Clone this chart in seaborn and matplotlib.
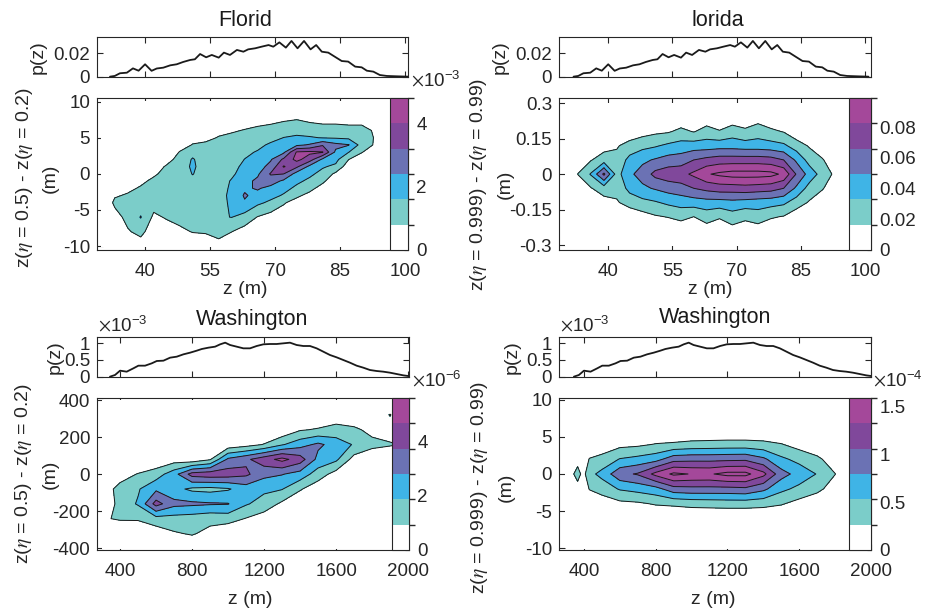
import numpy as np
import matplotlib
matplotlib.use("Agg")
import matplotlib.pyplot as plt
import seaborn as sns
from matplotlib.colors import ListedColormap, BoundaryNorm
from matplotlib.cm import ScalarMappable

# ---------------- marginal densities p(z) ----------------
fl_z = [31.9, 33, 34.2, 35.8, 37.2, 38.5, 40, 41.5, 42.7, 44.2,
        45.8, 47.3, 48.8, 50.4, 51.5, 52.7, 54.1, 55.4, 57, 58.2,
        59.6, 61.2, 62.7, 63.8, 65.4, 66.9, 68.5, 69.6, 71, 72.5,
        73.8, 75.2, 76.7, 78.2, 79.5, 80.8, 82.3, 83.8, 85.4, 86.9,
        88.5, 90, 91.2, 92.7, 94.2, 95.8, 98.1, 100.8]
fl_p = [0, 0.0006, 0.0029, 0.0034, 0.0071, 0.0051, 0.0106, 0.005, 0.007, 0.0077,
        0.0097, 0.0106, 0.0126, 0.0143, 0.0149, 0.0194, 0.0166, 0.0186, 0.0163, 0.0206,
        0.0186, 0.0229, 0.0214, 0.0234, 0.0243, 0.0257, 0.0271, 0.0257, 0.0294, 0.0249,
        0.0306, 0.0243, 0.0306, 0.0234, 0.0271, 0.0214, 0.0206, 0.0171, 0.0134, 0.0129,
        0.0086, 0.008, 0.0051, 0.0043, 0.0014, 0.0006, 0.0003, 0]

wa_z = [344, 372, 400, 437, 474, 502, 539, 576, 604, 641,
        678, 715, 752, 789, 826, 854, 891, 928, 956, 984,
        1011, 1048, 1085, 1122, 1159, 1196, 1233, 1270, 1307, 1344,
        1381, 1418, 1455, 1492, 1529, 1566, 1603, 1640, 1677, 1714,
        1751, 1788, 1825, 1862, 1899, 1936, 1973, 2000]
wa_p = [0, 0.05, 0.18, 0.15, 0.25, 0.33, 0.33, 0.40, 0.47, 0.48,   # x1e-3
        0.57, 0.60, 0.67, 0.72, 0.78, 0.83, 0.87, 0.90, 0.97, 1.02,
        0.95, 0.90, 0.85, 0.85, 0.92, 0.97, 0.98, 0.98, 1.0, 1.02,
        0.95, 0.92, 0.92, 0.85, 0.75, 0.65, 0.58, 0.50, 0.42, 0.33,
        0.27, 0.20, 0.17, 0.15, 0.12, 0.08, 0.04, 0.02]

# ---------------- joint densities (in multiples of each panel's contour interval) ----------------
fl_grid_z = [30, 33, 36, 39, 42, 45, 48, 51, 54, 57, 60, 63, 66, 69, 72, 75, 78, 81, 84, 87, 90, 93, 96, 99]

fl_dz_a = [10, 8, 6, 5, 4, 3, 2, 1, 0, -1, -2, -3, -4, -6, -8, -10]
fl_step_a = 0.8   # x1e-3
fl_joint_a = [
    [0, 0, 0, 0, 0, 0, 0, 0, 0, 0, 0, 0, 0, 0, 0, 0, 0, 0, 0, 0, 0, 0, 0, 0],
    [0, 0, 0, 0, 0, 0, 0, 0, 0, 0, 0.1, 0.4, 0.5, 0.6, 0.7, 0.8, 0.6, 0.5, 0.5, 0.5, 0.5, 0.3, 0, 0],
    [0, 0, 0, 0, 0, 0, 0, 0.2, 0.5, 0.8, 0.9, 1.05, 1.2, 1.3, 1.5, 1.6, 1.5, 1.4, 1.4, 1.3, 1.3, 0.9, 0, 0],
    [0, 0, 0, 0, 0, 0, 0.2, 0.7, 0.8, 1.05, 1.2, 1.3, 1.4, 1.6, 2.02, 2.2, 2.1, 1.95, 1.9, 1.8, 1.5, 0.95, 0, 0],
    [0, 0, 0, 0, 0, 0, 0.6, 1.05, 1.15, 1.3, 1.3, 1.5, 1.7, 2.2, 2.4, 2.8, 3.1, 3.9, 3.3, 3.05, 1.6, 0.9, 0, 0],
    [0, 0, 0, 0, 0, 0.35, 1.05, 1.6, 1.3, 1.35, 1.4, 1.75, 2.1, 2.6, 2.8, 5.1, 5.2, 5.05, 2.8, 2.02, 1.05, 0.5, 0, 0],
    [0, 0, 0, 0, 0.3, 0.7, 1.3, 2.1, 1.4, 1.4, 1.5, 2.02, 2.4, 2.9, 4.2, 5.3, 4.5, 2.8, 2.3, 1.02, 0.5, 0.2, 0, 0],
    [0, 0, 0, 0.2, 0.6, 1.1, 1.4, 2.2, 1.4, 1.4, 1.6, 2.3, 2.6, 3.3, 5.1, 4.2, 2.7, 2.1, 1.8, 0.4, 0, 0, 0, 0],
    [0, 0, 0.3, 0.5, 0.85, 1.3, 1.4, 2.05, 1.4, 1.4, 1.8, 2.5, 2.85, 4.1, 4.02, 2.6, 2.2, 1.7, 0.8, 0.1, 0, 0, 0, 0],
    [0, 0.2, 0.55, 0.8, 1.2, 1.4, 1.4, 1.7, 1.4, 1.45, 2.1, 2.7, 3.2, 3.5, 2.8, 2.2, 1.8, 1.2, 0.3, 0, 0, 0, 0, 0],
    [0, 0.5, 0.8, 1.1, 1.4, 1.4, 1.4, 1.4, 1.4, 1.5, 2.2, 2.85, 3.1, 2.7, 2.3, 1.8, 1.3, 0.6, 0, 0, 0, 0, 0, 0],
    [0, 0.9, 1.1, 1.3, 1.4, 1.4, 1.4, 1.4, 1.45, 1.55, 2.3, 3.1, 2.7, 2.3, 1.9, 1.2, 0.7, 0.2, 0, 0, 0, 0, 0, 0],
    [0, 1.2, 1.4, 1.5, 1.4, 1.4, 1.4, 1.4, 1.5, 1.6, 2.2, 2.9, 2.2, 1.8, 1.1, 0.6, 0.4, 0, 0, 0, 0, 0, 0, 0],
    [0, 0.6, 1.3, 2.05, 0.8, 1.1, 1.3, 1.3, 1.4, 1.9, 2.02, 1.6, 0.95, 0.6, 0.4, 0, 0, 0, 0, 0, 0, 0, 0, 0],
    [0, 0, 0.9, 1.3, 0.4, 0.5, 0.8, 1.05, 1.1, 1.2, 1.02, 0.6, 0.3, 0, 0, 0, 0, 0, 0, 0, 0, 0, 0, 0],
    [0, 0, 0, 0.5, 0, 0, 0.2, 0.3, 0.4, 0.8, 0.3, 0, 0, 0, 0, 0, 0, 0, 0, 0, 0, 0, 0, 0],
]

fl_dz_b = [0.3, 0.24, 0.18, 0.12, 0.06, 0, -0.06, -0.12, -0.18, -0.24, -0.3]
fl_step_b = 0.0165
fl_joint_b = [
    [0, 0, 0, 0, 0, 0, 0, 0, 0, 0, 0, 0, 0, 0, 0, 0, 0, 0, 0, 0, 0, 0, 0, 0],
    [0, 0, 0, 0, 0, 0, 0, 0, 0.2, 0.3, 0.3, 0.4, 0.5, 0.4, 0.5, 0.6, 0.3, 0.1, 0, 0, 0, 0, 0, 0],
    [0, 0, 0, 0, 0.2, 0.3, 0.6, 0.8, 0.9, 1.25, 0.95, 1.4, 1.05, 1.5, 1.15, 1.5, 1.2, 0.95, 0.3, 0.1, 0, 0, 0, 0],
    [0, 0, 0.2, 0.6, 0.9, 1.4, 1.7, 1.9, 2.2, 2.4, 2.5, 2.5, 2.6, 2.6, 2.5, 2.5, 2.4, 2.2, 1.5, 0.9, 0.3, 0, 0, 0],
    [0, 0.3, 0.95, 1.5, 1.3, 2.3, 2.8, 3.1, 3.4, 3.5, 4.0, 4.3, 4.5, 4.5, 4.5, 4.5, 4.4, 4.0, 2.8, 1.6, 1.1, 0.3, 0, 0],
    [0, 1.05, 2.1, 4.2, 1.6, 2.8, 3.4, 4.3, 4.6, 4.7, 5.2, 5.9, 6.2, 6.4, 6.4, 6.4, 6.3, 5.8, 3.9, 2.6, 1.6, 0.8, 0, 0],
    [0, 0.3, 0.95, 1.5, 1.3, 2.3, 2.8, 3.1, 3.4, 3.6, 4.0, 4.3, 4.5, 4.5, 4.6, 4.5, 4.4, 4.0, 2.8, 1.6, 1.1, 0.3, 0, 0],
    [0, 0, 0.2, 0.6, 0.9, 1.4, 1.7, 1.9, 2.2, 2.4, 2.5, 2.6, 2.6, 2.7, 2.6, 2.5, 2.4, 2.2, 1.5, 0.9, 0.3, 0, 0, 0],
    [0, 0, 0, 0, 0.2, 0.3, 0.6, 0.9, 1.05, 1.3, 1.0, 1.45, 1.1, 1.55, 1.2, 1.5, 1.1, 0.95, 0.4, 0.1, 0, 0, 0, 0],
    [0, 0, 0, 0, 0, 0, 0, 0, 0.2, 0.3, 0.4, 0.5, 0.4, 0.6, 0.5, 0.5, 0.4, 0.1, 0, 0, 0, 0, 0, 0],
    [0, 0, 0, 0, 0, 0, 0, 0, 0, 0, 0, 0, 0, 0, 0, 0, 0, 0, 0, 0, 0, 0, 0, 0],
]

wa_grid_z_a = [300, 400, 500, 600, 700, 800, 900, 1000, 1100, 1200, 1300, 1400, 1500, 1600, 1700, 1800, 1900, 2000]
wa_dz_a = [400, 320, 240, 160, 80, 0, -80, -160, -240, -320, -400]
wa_step_a = 0.93  # x1e-6
wa_joint_a = [
    [0, 0, 0, 0, 0, 0, 0, 0, 0, 0, 0, 0, 0, 0, 0, 0, 0, 0],
    [0, 0, 0, 0, 0, 0, 0, 0, 0, 0, 0, 0, 0.1, 0.5, 0.2, 0.3, 1.05, 0],
    [0, 0, 0, 0, 0, 0, 0, 0, 0, 0, 0.2, 0.9, 1.1, 1.3, 1.2, 0.7, 0.5, 0],
    [0, 0, 0, 0, 0, 0, 0, 0.3, 0.6, 1.05, 1.9, 2.6, 3.2, 2.6, 1.9, 1.3, 1.1, 0.9],
    [0, 0, 0.1, 0.2, 0.5, 0.3, 0.9, 3.2, 3.8, 4.6, 5.3, 4.5, 2.7, 2.2, 0.6, 0.2, 0.1, 0],
    [0, 0.6, 1.05, 1.5, 2.6, 4.4, 4.6, 4.5, 4.2, 3.3, 3.05, 2.6, 1.5, 0.6, 0, 0, 0, 0],
    [0.5, 1.3, 1.9, 2.8, 2.3, 1.8, 1.7, 1.9, 2.5, 2.2, 2.05, 1.1, 0.4, 0, 0, 0, 0, 0],
    [0, 1.4, 2.1, 4.4, 3.3, 3.2, 3.1, 3.05, 2.1, 1.6, 0.8, 0.2, 0, 0, 0, 0, 0, 0],
    [0.9, 1.1, 1.1, 1.6, 1.6, 1.5, 1.3, 1.4, 0.95, 0.5, 0, 0, 0, 0, 0, 0, 0, 0],
    [0, 0.2, 0.3, 0.4, 0.9, 1.1, 0.7, 0.2, 0, 0, 0, 0, 0, 0, 0, 0, 0, 0],
    [0, 0, 0, 0, 0, 0.2, 0, 0, 0, 0, 0, 0, 0, 0, 0, 0, 0, 0],
]

wa_grid_z_b = [300, 365, 395, 430, 500, 600, 700, 800, 900, 1000, 1100, 1200, 1300, 1400, 1500, 1600, 1700, 1800, 1900, 2000]
wa_dz_b = [10, 8, 6, 4, 2, 0, -2, -4, -6, -8, -10]
wa_step_b = 0.265  # x1e-4
wa_joint_b = [
    [0] * 20,
    [0] * 20,
    [0] * 20,
    [0, 0, 0, 0.2, 0.4, 0.7, 0.8, 1.05, 1.15, 1.3, 1.35, 1.4, 1.4, 1.3, 1.05, 0.6, 0.3, 0, 0, 0],
    [0, 0.5, 0.2, 1.05, 1.3, 2.05, 2.3, 2.6, 3.6, 3.7, 3.7, 3.75, 3.8, 3.2, 2.2, 1.7, 1.2, 0.5, 0, 0],
    [0, 1.5, 0.6, 1.7, 2.3, 3.7, 4.1, 5.3, 6.2, 5.95, 5.9, 6.3, 6.3, 5.3, 3.4, 2.6, 1.95, 1.02, 0, 0],
    [0, 0.5, 0.2, 1.05, 1.4, 2.1, 2.35, 2.65, 3.6, 3.7, 3.7, 3.7, 3.8, 3.25, 2.25, 1.75, 1.25, 0.55, 0, 0],
    [0, 0, 0, 0.25, 0.45, 0.75, 0.85, 1.1, 1.2, 1.35, 1.4, 1.45, 1.45, 1.35, 1.1, 0.65, 0.35, 0, 0, 0],
    [0] * 20,
    [0] * 20,
    [0] * 20,
]

band_colors = ['#ffffff', '#7bcdc9', '#3fb4e6', '#6b72b4', '#80489b', '#a4489a']
TXT = '#262626'

# ---------------- figure ----------------
sns.set_theme(style="white")
plt.rcParams['font.family'] = ['Liberation Sans', 'DejaVu Sans']
plt.rcParams['mathtext.fontset'] = 'stix'
plt.rcParams['axes.unicode_minus'] = False

W, H = 925, 611
fig = plt.figure(figsize=(W / 100, H / 100), dpi=100)
TICK_FS = 13.5
LAB_FS = 14


def rect(x0, y0, x1, y1):
    return [x0 / W, 1 - y1 / H, (x1 - x0) / W, (y1 - y0) / H]


def ftext(x, y, s, **kw):
    fig.text(x / W, 1 - y / H, s, **kw)


def style(ax, pad):
    ax.tick_params(direction='in', length=4, width=0.8, top=True, right=True,
                   bottom=True, left=True, colors=TXT, labelsize=TICK_FS, pad=pad)
    ax.tick_params(axis='x', pad=9)
    for s in ax.spines.values():
        s.set_visible(True)
        s.set_color(TXT)
        s.set_linewidth(0.8)


def panel(mrect, arect, crect, mz, mp, mylim, myticks, mylabels,
          gz, gy, grid, step, xlim, xticks, ylim, yticks, ylabels, cticks, clabels):
    axm = fig.add_axes(rect(*mrect))
    sns.lineplot(x=mz, y=mp, ax=axm, color='k', linewidth=1.3)
    axm.set_xlim(xlim)
    axm.set_ylim(mylim)
    axm.set_xticks(xticks)
    axm.set_xticklabels([])
    axm.set_yticks(myticks, mylabels)
    axm.set_xlabel('')
    axm.set_ylabel('')
    style(axm, 5)

    ax = fig.add_axes(rect(*arect))
    Z = np.asarray(grid, float)[::-1] * step
    Y = np.asarray(gy, float)[::-1]
    X = np.asarray(gz, float)
    levels = step * np.arange(7)
    ax.contourf(X, Y, Z, levels=levels, colors=band_colors + [band_colors[-1]], extend='max')
    ax.contour(X, Y, Z, levels=levels[1:], colors='k', linewidths=0.7)
    ax.set_xlim(xlim)
    ax.set_ylim(ylim)
    ax.set_xticks(xticks, [str(t) for t in xticks])
    ax.set_yticks(yticks, ylabels)
    style(ax, 5)

    cax = fig.add_axes(rect(*crect))
    cmap = ListedColormap(band_colors)
    norm = BoundaryNorm(levels, cmap.N)
    cb = fig.colorbar(ScalarMappable(norm=norm, cmap=cmap), cax=cax)
    cb.set_ticks(cticks, labels=clabels)
    cb.ax.tick_params(direction='in', length=3, width=0.8, colors=TXT, labelsize=TICK_FS, pad=6)
    cb.outline.set_edgecolor(TXT)
    cb.outline.set_linewidth(0.8)
    return axm, ax


# top-left
panel((97, 37, 408, 77), (97, 98, 408, 250), (390, 98, 408, 250),
      fl_z, fl_p, (-0.0003, 0.034), [0, 0.02], ['0', '0.02'],
      fl_grid_z, fl_dz_a, fl_joint_a, fl_step_a,
      (28.9, 100.7), [40, 55, 70, 85, 100], (-10.55, 10.5),
      [-10, -5, 0, 5, 10], ['-10', '-5', '0', '5', '10'],
      [0, 2, 4], ['0', '2', '4'])

# top-right
panel((559, 37, 871, 77), (559, 98, 871, 250), (849, 98, 871, 250),
      fl_z, fl_p, (-0.0003, 0.034), [0, 0.02], ['0', '0.02'],
      fl_grid_z, fl_dz_b, fl_joint_b, fl_step_b,
      (28.5, 101.4), [40, 55, 70, 85, 100], (-0.321, 0.322),
      [-0.3, -0.15, 0, 0.15, 0.3], ['-0.3', '-0.15', '0', '0.15', '0.3'],
      [0, 0.02, 0.04, 0.06, 0.08], ['0', '0.02', '0.04', '0.06', '0.08'])

# bottom-left
panel((97, 337, 409, 377), (97, 398, 409, 550), (392, 398, 409, 550),
      wa_z, wa_p, (-0.01, 1.19), [0, 0.5, 1], ['0', '0.5', '1'],
      wa_grid_z_a, wa_dz_a, wa_joint_a, wa_step_a,
      (272, 2005), [400, 800, 1200, 1600, 2000], (-409, 411),
      [-400, -200, 0, 200, 400], ['-400', '-200', '0', '200', '400'],
      [0, 2, 4], ['0', '2', '4'])

# bottom-right
panel((559, 337, 871, 377), (559, 398, 871, 550), (849, 398, 871, 550),
      wa_z, wa_p, (-0.01, 1.19), [0, 0.5, 1], ['0', '0.5', '1'],
      wa_grid_z_b, wa_dz_b, wa_joint_b, wa_step_b,
      (261, 2000), [400, 800, 1200, 1600, 2000], (-10.25, 10.25),
      [-10, -5, 0, 5, 10], ['-10', '-5', '0', '5', '10'],
      [0, 0.5, 1, 1.5], ['0', '0.5', '1', '1.5'])

# titles
ftext(245, 20, 'Florid', ha='center', va='center', fontsize=15.5, color='k')
ftext(718, 20, 'lorida', ha='center', va='center', fontsize=15.5, color='k')
ftext(252, 320, 'Washington', ha='center', va='center', fontsize=15.5, color='k')
ftext(715, 317, 'Washington', ha='center', va='center', fontsize=15.5, color='k')

# p(z) labels
for (x, y) in [(38, 57), (500, 57), (55, 357), (512, 357)]:
    ftext(x, y, 'p(z)', rotation=90, ha='center', va='center', fontsize=LAB_FS, color=TXT)

# main y labels
lab_a = r'z($\eta$ = 0.5) - z($\eta$ = 0.2)'
lab_b = r'z($\eta$ = 0.999) - z($\eta$ = 0.99)'
for (x1, x2, y, s) in [(25, 50, 178, lab_a), (478, 505, 184, lab_b),
                        (24, 50, 474, lab_a), (479, 506, 487, lab_b)]:
    ftext(x1, y, s, rotation=90, ha='center', va='center', fontsize=LAB_FS, color=TXT)
    ftext(x2, y, '(m)', rotation=90, ha='center', va='center', fontsize=LAB_FS, color=TXT)

# x labels
for (x, y) in [(245, 289), (710, 289), (250, 600), (713, 600)]:
    ftext(x, y, 'z (m)', ha='center', va='center', fontsize=LAB_FS, color=TXT)

# exponent labels
for (x, y, e) in [(411, 80, '-3'), (98, 325, '-3'), (412, 380, '-6'),
                  (560, 325, '-3'), (873, 380, '-4')]:
    ftext(x, y, r'$\times\mathregular{10^{' + e + '}}$', ha='left', va='center',
          fontsize=TICK_FS, color=TXT)

fig.savefig('out.png', dpi=100)
